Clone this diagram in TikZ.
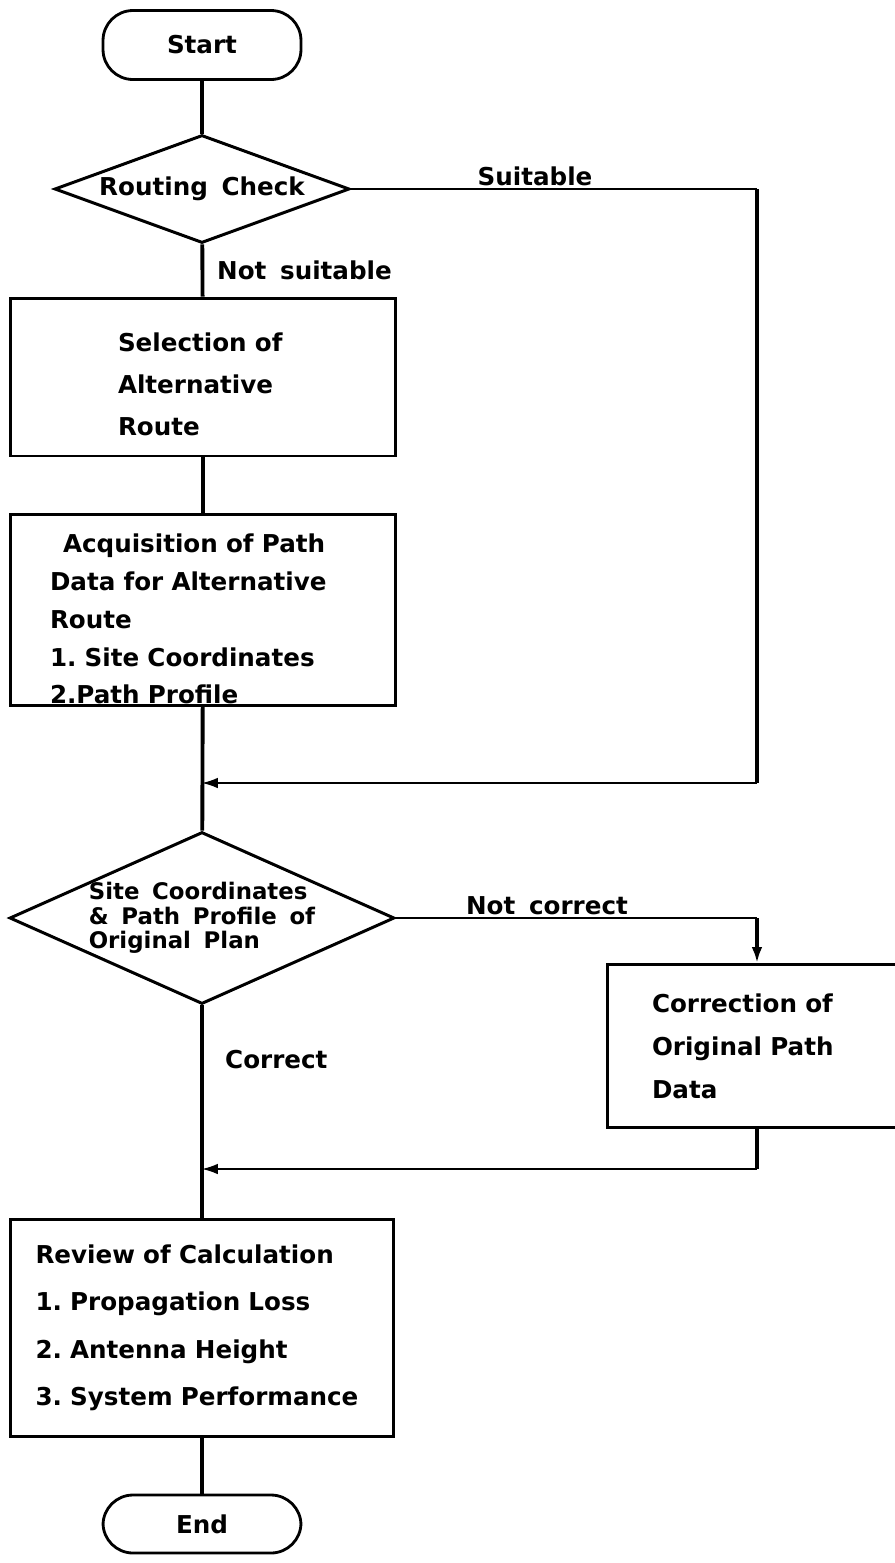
\documentclass[tikz,border=0pt]{standalone}
\usepackage{fontspec}
\setmainfont{DejaVu Sans}[WordSpace=1.6]
\usetikzlibrary{arrows.meta,positioning,shapes.geometric}

\tikzset{
  flow/.style={line width=2.2pt},
  back/.style={line width=0.9pt},
  tip/.style={-{Latex[length=9pt,width=6pt]}},
  termbox/.style={draw, line width=1.6pt, rounded corners=0.6cm, minimum width=3.96cm, font=\bfseries\fontsize{14}{17}\selectfont},
  testbox/.style={draw, diamond, line width=1.7pt, inner sep=0pt, align=left},
  procbox/.style={draw, rectangle, line width=1.7pt, align=left, inner ysep=0pt},
  tag/.style={font=\bfseries\fontsize{14}{17}\selectfont}
}

\begin{document}
\frenchspacing\hyphenpenalty=10000
\begin{tikzpicture}[x=0.02cm, y=-0.02cm]
    \useasboundingbox (0,0) rectangle (895,1563);

    % Main column
    \node[termbox, minimum height=1.38cm] (start) at (202,45) {Start};
    \node[testbox, aspect=2.7, minimum width=5.9cm, minimum height=2.16cm, font=\bfseries\fontsize{14}{17}\selectfont] (route) at (202,189) {Routing Check};
    \node[procbox, minimum height=3.16cm, inner xsep=2.16cm, text width=3.4cm, font=\bfseries\fontsize{14}{24}\selectfont] (select) at (203,377) {\rule{0pt}{19pt}Selection of\\Alternative\\Route};
    \node[procbox, minimum height=3.82cm, inner xsep=0.8cm, text width=6.12cm, font=\bfseries\fontsize{14}{21.5}\selectfont] (acquire) at (203,610) {\rule{0pt}{21pt}\hspace*{0.26cm}Acquisition of Path\\Data for Alternative\\Route\\1. Site Coordinates\\2.Path Profile};
    \node[testbox, aspect=2.24, minimum width=7.7cm, minimum height=3.44cm, font=\bfseries\fontsize{13}{13.8}\selectfont] (check) at (202,918) {Site Coordinates\\\& Path Profile of\\Original Plan};
    \node[procbox, minimum height=4.34cm, inner xsep=0.5cm, text width=6.66cm, font=\bfseries\fontsize{14}{27}\selectfont] (review) at (202,1328) {Review of Calculation\\1. Propagation Loss\\2. Antenna Height\\3. System Performance};
    \node[termbox, minimum height=1.16cm] (stop) at (202,1524) {End};

    % Side box
    \node[procbox, minimum width=6cm, minimum height=3.26cm, inner xsep=0.9cm, text width=4.2cm, font=\bfseries\fontsize{14}{24.4}\selectfont] (correct) at (757,1046) {Correction of\\Original Path\\Data};

    % Corner points of the side routes
    \coordinate (suitr) at (757,189);
    \coordinate (suitb) at (757,783);
    \coordinate (suitj) at (202,783);
    \coordinate (notc) at (757,918);
    \coordinate (corrb) at (757,1169);
    \coordinate (corrj) at (202,1169);

    % Main flow
    \draw[flow] (start) -- (route);
    \draw[flow] (route) -- (select);
    \draw[flow] (select) -- (acquire);
    \draw[flow] (acquire) -- (check);
    \draw[flow] (check) -- (review);
    \draw[flow] (review) -- (stop);

    % Suitable route
    \draw[back] (route.east) -- (suitr);
    \draw[flow] (suitr) -- (suitb);
    \draw[back, tip] (suitb) -- (suitj);

    % Not correct route
    \draw[back] (check.east) -- (notc);
    \draw[flow, tip] (notc) -- (correct.north);
    \draw[flow] (correct.south) -- (corrb);
    \draw[back, tip] (corrb) -- (corrj);

    % Labels
    \node[tag] (suit) at (535,176) {Suitable};
    \node[tag, anchor=west] (notsuit) at (211,270) {Not suitable};
    \node[tag] (notcorr) at (547,906) {Not correct};
    \node[tag, anchor=west] (corr) at (219,1060) {Correct};
\end{tikzpicture}
\end{document}
